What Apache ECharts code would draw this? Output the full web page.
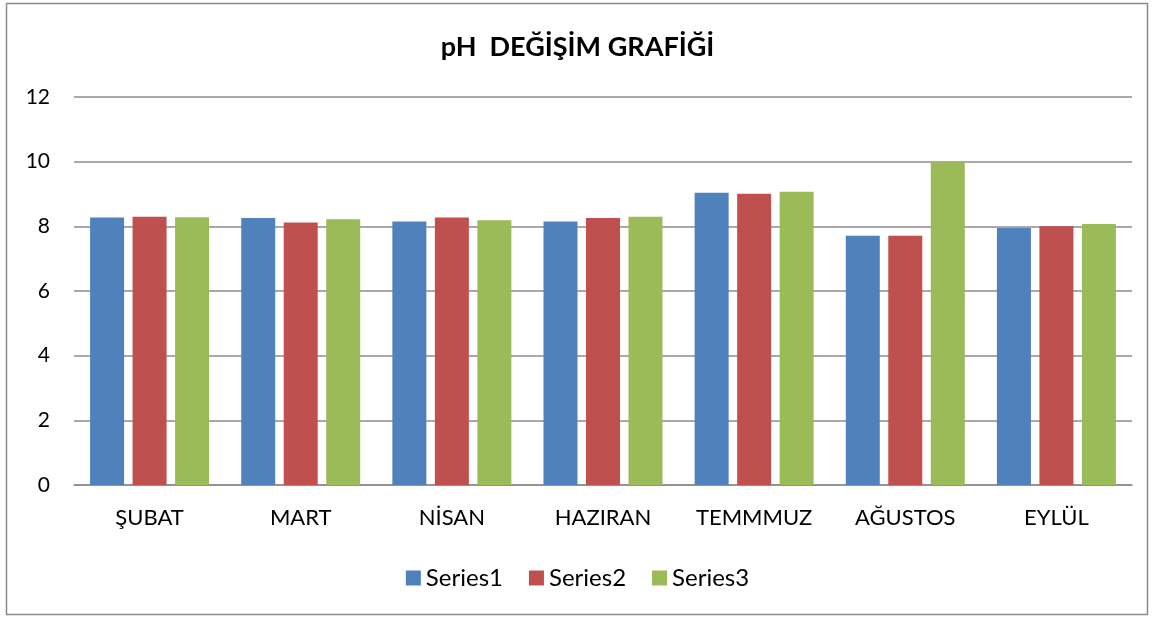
<!DOCTYPE html>
<html>
<head>
<meta charset="utf-8">
<script src="https://cdn.jsdelivr.net/npm/echarts@6/dist/echarts.min.js"></script>
<style>
html,body{margin:0;padding:0;background:#fff;}
#c{width:1155px;height:617px;}
</style>
</head>
<body>
<div id="c"></div>
<script>
const categories = ['ŞUBAT','MART','NİSAN','HAZIRAN','TEMMMUZ','AĞUSTOS','EYLÜL'];
const series1 = [8.27, 8.26, 8.15, 8.15, 9.04, 7.71, 7.95];
const series2 = [8.30, 8.12, 8.27, 8.26, 9.01, 7.71, 8.00];
const series3 = [8.28, 8.22, 8.19, 8.30, 9.07, 10.00, 8.07];
const seriesNames = ['Series1','Series2','Series3'];
const colors = ['#4F81BD','#C0504D','#9BBB59'];
const FONT = 'Lato, "Open Sans", sans-serif';

const chart = echarts.init(document.getElementById('c'), null, {renderer:'canvas'});
const mk = (name, data, i) => ({
  name, type:'bar', data, barWidth:34, barGap:'25%',
  itemStyle:{color:colors[i]}
});
chart.setOption({
  animation:false,
  backgroundColor:'#fff',
  title:{
    text:'pH  DEĞİŞİM GRAFİĞİ', left:'center', top:29,
    textStyle:{fontFamily:FONT, fontSize:27, fontWeight:'bold', color:'#000'}
  },
  graphic:[{type:'rect', shape:{x:6.5,y:3.5,width:1141,height:611},
    style:{fill:'none', stroke:'#8a8a8a', lineWidth:1.5}, silent:true}],
  legend:{
    data:seriesNames, top:561, left:'center', itemWidth:15, itemHeight:15, itemGap:26,
    icon:'rect',
    textStyle:{fontFamily:FONT, fontSize:24, color:'#000'}
  },
  grid:{left:74, right:23, top:97, bottom:132},
  xAxis:{
    type:'category', data:categories,
    axisLine:{lineStyle:{color:'#8c8c8c', width:1.5}},
    axisTick:{show:false},
    axisLabel:{fontFamily:FONT, fontSize:22, color:'#000', margin:22, interval:0, hideOverlap:false}
  },
  yAxis:{
    type:'value', min:0, max:12, interval:2,
    axisLine:{show:false}, axisTick:{show:false},
    splitLine:{lineStyle:{color:'#8c8c8c', width:1.5}},
    axisLabel:{fontFamily:FONT, fontSize:21, color:'#000', margin:24}
  },
  series:[mk(seriesNames[0],series1,0), mk(seriesNames[1],series2,1), mk(seriesNames[2],series3,2)]
});
</script>
</body>
</html>
